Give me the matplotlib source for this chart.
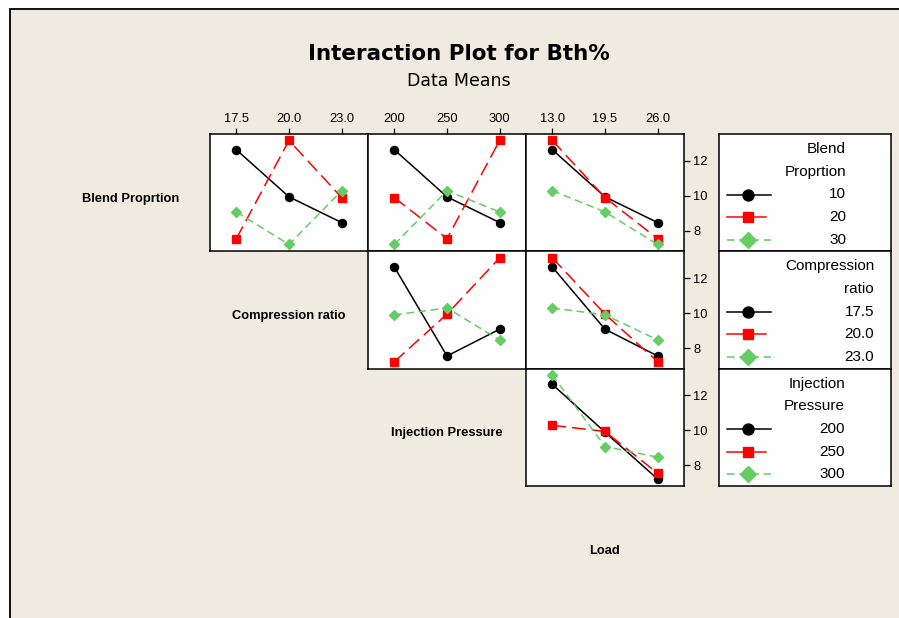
import matplotlib
matplotlib.use('Agg')
import matplotlib.pyplot as plt
from matplotlib.patches import Rectangle
import pandas as pd

#----------------------------------
# L9 runs: factor levels and measured Bth %
blend = [10, 10, 10, 20, 20, 20, 30, 30, 30]
comp_ratio = [17.5, 20.0, 23.0, 17.5, 20.0, 23.0, 17.5, 20.0, 23.0]
inj_pressure = [200, 250, 300, 250, 300, 200, 300, 200, 250]
load = [13.0, 19.5, 26.0, 26.0, 13.0, 19.5, 19.5, 26.0, 13.0]
bth = [12.63, 9.94, 8.47, 7.55, 13.16, 9.90, 9.08, 7.22, 10.29]

factor_names = ['Blend Proprtion', 'Compression ratio', 'Injection Pressure', 'Load']
legend_titles = [['Blend', 'Proprtion'], ['Compression', 'ratio'], ['Injection', 'Pressure']]
level_labels = [['10', '20', '30'], ['17.5', '20.0', '23.0'],
                ['200', '250', '300'], ['13.0', '19.5', '26.0']]
y_ticks = [8, 10, 12]

df = pd.DataFrame({'f0': blend, 'f1': comp_ratio, 'f2': inj_pressure, 'f3': load, 'bth': bth})

#----------------------------------
# layout (pixels)
W, H = 899, 618
bg = '#EFEBE1'
left, top, cw, rh = 210, 134, 158, 117.3
leg_x, leg_w = 719, 172
leg_right = [127, 155, 126]
ylim = (6.83, 13.53)

plt.rcParams['font.family'] = ['Liberation Sans', 'DejaVu Sans']

styles = [dict(color='black', ls='-', marker='o', ms=5.8),
          dict(color='#FF0000', dashes=(9, 4), marker='s', ms=5.6),
          dict(color='#66CC66', dashes=(5, 3), marker='D', ms=5.0)]


def box(x0, y0, w, h):
    return [x0 / W, 1 - (y0 + h) / H, w / W, h / H]


fig = plt.figure(figsize=(W / 100, H / 100), dpi=100, facecolor='white')
fig.add_artist(Rectangle((10 / W, -0.1), 1.2, 1 - 9 / H + 0.1, transform=fig.transFigure,
                         facecolor=bg, edgecolor='black', lw=1.3, zorder=-10))

fig.text(459 / W, 1 - 54 / H, 'Interaction Plot for Bth%', ha='center', va='center',
         fontsize=15.5, fontweight='bold', family='DejaVu Sans')
fig.text(459 / W, 1 - 81 / H, 'Data Means', ha='center', va='center',
         fontsize=12.5, family='DejaVu Sans')

for i in range(3):          # row: trace factor
    for j in range(i, 3):   # column: x factor
        ax = fig.add_axes(box(left + j * cw, top + i * rh, cw, rh))
        ax.set_facecolor('white')
        for s in ax.spines.values():
            s.set_linewidth(1.1)
        means = df.groupby(['f%d' % i, 'f%d' % (j + 1)])['bth'].mean()
        for k, lev in enumerate(sorted(df['f%d' % i].unique())):
            vals = means.loc[lev].sort_index().values
            ax.plot([1, 2, 3], vals, lw=1.1, mec=styles[k]['color'], mfc=styles[k]['color'],
                    **styles[k], clip_on=False)
        ax.set_xlim(0.5, 3.5)
        ax.set_ylim(*ylim)
        if i == 0:
            ax.xaxis.tick_top()
            ax.set_xticks([1, 2, 3])
            ax.set_xticklabels(level_labels[j + 1])
            ax.tick_params(axis='x', direction='out', length=4.3, width=0.9, pad=2.5, labelsize=9.3)
        else:
            ax.set_xticks([])
        if j == 2:
            ax.yaxis.tick_right()
            ax.set_yticks(y_ticks)
            ax.tick_params(axis='y', direction='out', length=4.3, width=0.9, pad=2.5, labelsize=9.3)
        else:
            ax.set_yticks([])

    # legend box for this row
    lax = fig.add_axes(box(leg_x, top + i * rh, leg_w, rh))
    lax.set_facecolor('white')
    for s in lax.spines.values():
        s.set_linewidth(1.1)
    lax.set_xlim(0, leg_w)
    lax.set_ylim(rh, 0)
    lax.set_xticks([])
    lax.set_yticks([])
    for n, line in enumerate(legend_titles[i]):
        lax.text(leg_right[i], 15 + n * 22.7, line, ha='right', va='center', fontsize=11)
    for k in range(3):
        y = 60.5 + k * 22.5
        st = dict(styles[k])
        if k == 1:
            st.pop('dashes')
            st['ls'] = '-'
        ms = st.pop('ms') + 2.1
        mk = st.pop('marker')
        lax.plot([8, 52 if k != 1 else 47], [y, y], lw=1.1, **st)
        lax.plot([28.5], [y], marker=mk, ms=ms if k != 2 else 8.0, color=st['color'], ls='none')
        lax.text(leg_right[i], y, level_labels[i][k], ha='right', va='center', fontsize=11)

# factor names on the diagonal
for d, name in enumerate(factor_names):
    cx = left - cw / 2 + d * cw
    cy = top + rh / 2 + d * rh + 6
    fig.text(cx / W, 1 - cy / H, name, ha='center', va='center', fontsize=9.3, fontweight='bold')

fig.savefig('out.png', dpi=100, facecolor=fig.get_facecolor())
